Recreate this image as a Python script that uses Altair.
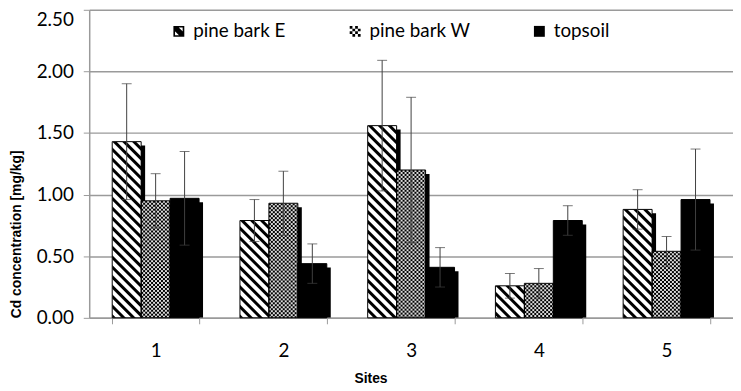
import base64
import altair as alt
import pandas as pd

sites = ["1", "2", "3", "4", "5"]
series = ["pine bark E", "pine bark W", "topsoil"]
pine_e = [1.43, 0.79, 1.56, 0.26, 0.88]
pine_e_err = [0.47, 0.17, 0.53, 0.10, 0.16]
pine_w = [0.95, 0.93, 1.20, 0.28, 0.54]
pine_w_err = [0.22, 0.26, 0.59, 0.12, 0.12]
topsoil = [0.97, 0.44, 0.41, 0.79, 0.96]
topsoil_err = [0.38, 0.16, 0.16, 0.12, 0.41]
y_ticks = [0.0, 0.5, 1.0, 1.5, 2.0, 2.5]

rows = []
for name, vals, errs in [(series[0], pine_e, pine_e_err),
                         (series[1], pine_w, pine_w_err),
                         (series[2], topsoil, topsoil_err)]:
    for s, v, e in zip(sites, vals, errs):
        rows.append({"site": s, "series": name, "value": v, "err": e})
df = pd.DataFrame(rows)


def svg_uri(svg):
    return "data:image/svg+xml;base64," + base64.b64encode(svg.encode()).decode()


stripe_svg = (
    '<svg xmlns="http://www.w3.org/2000/svg" width="100%" height="100%">'
    '<defs><pattern id="p" width="7" height="7" patternUnits="userSpaceOnUse" '
    'patternTransform="rotate(-45)"><rect width="7" height="7" fill="white"/>'
    '<rect width="3" height="7" fill="black"/></pattern></defs>'
    '<rect width="100%" height="100%" fill="url(#p)"/></svg>'
)
check_svg = (
    '<svg xmlns="http://www.w3.org/2000/svg" width="100%" height="100%">'
    '<defs><pattern id="c" width="4" height="4" patternUnits="userSpaceOnUse">'
    '<rect width="4" height="4" fill="#dcdcdc"/>'
    '<rect width="2" height="2" fill="black"/><rect x="2" y="2" width="2" height="2" fill="black"/>'
    '</pattern></defs><rect width="100%" height="100%" fill="url(#c)"/></svg>'
)
stripe_uri = svg_uri(stripe_svg)
check_uri = svg_uri(check_svg)

# legend symbol paths (unit square -1..1)
path_e = ("M-1,-1H1V1H-1Z M-0.7,-0.7V0.7H0.7V-0.7Z "
          "M-1,-1L-0.3,-1L1,0.3L1,1L0.3,1L-1,-0.3Z")
cells = []
for i in range(4):
    for j in range(4):
        if (i + j) % 2 == 0:
            x0 = -1 + 0.5 * i
            y0 = -1 + 0.5 * j
            cells.append(f"M{x0},{y0}h0.5v0.5h-0.5Z")
path_w = " ".join(cells)

FONT = "Lato"
GRID = "#9a9a9a"
ERR = "#404040"

x_axis = alt.Axis(
    title="Sites", labelAngle=0, tickBand="extent", ticks=True, tickSize=6,
    tickColor=GRID, domainColor=GRID, domainWidth=1.5, grid=False,
    labelFont=FONT, labelFontSize=19, labelColor="black", labelPadding=27,
    labelBaseline="middle",
    titleFont="Liberation Sans", titleFontSize=14, titleFontWeight="bold",
    titleColor="black", titleX=284, titleY=61, titleBaseline="middle",
    titleAlign="center", titleAnchor="start",
)
y_axis = alt.Axis(
    title="Cd concentration [mg/kg]", values=y_ticks, format=".2f",
    grid=True, gridColor=GRID, gridWidth=1.5, tickColor=GRID, tickSize=6,
    domainColor=GRID, domainWidth=1.5,
    labelFont=FONT, labelFontSize=19, labelColor="black", labelPadding=10,
    labelOffset={"expr": "datum.value == 2.5 ? 10 : 0"},
    titleFont="Liberation Sans", titleFontSize=14, titleFontWeight="bold",
    titleColor="black", titleX=-73, titleY=311, titleAngle=270,
    titleAlign="left", titleBaseline="middle",
)

x_scale = alt.Scale(domain=sites, paddingInner=0.32, paddingOuter=0.18)
xo_scale = alt.Scale(domain=series, paddingInner=0, paddingOuter=0)
xo_shadow_scale = alt.Scale(
    domain=series, paddingInner=0, paddingOuter=0,
    range=[4, {"expr": "bandwidth('x') + 4"}],
)
y_scale = alt.Scale(domain=[0, 2.5], nice=False, zero=True)

X = alt.X("site:N", scale=x_scale, axis=x_axis)
XO = alt.XOffset("series:N", scale=xo_scale)

base = alt.Chart(df).transform_calculate(
    lo="datum.value - datum.err", hi="datum.value + datum.err"
)

shadow = base.mark_bar(color="black", yOffset=4, clip=True).encode(
    x=X, xOffset=alt.XOffset("series:N", scale=xo_shadow_scale),
    y=alt.Y("value:Q", scale=y_scale, axis=y_axis, stack=None),
    y2=alt.datum(0),
)
soil = base.transform_filter(alt.datum.series == "topsoil").mark_bar(
    color="black"
).encode(
    x=X, xOffset=XO,
    y=alt.Y("value:Q", scale=y_scale, axis=y_axis, stack=None),
    y2=alt.datum(0),
)
img_e = base.transform_filter(alt.datum.series == "pine bark E").mark_image(
    aspect=False
).encode(
    x=X, xOffset=XO,
    y=alt.Y("value:Q", scale=y_scale, axis=y_axis),
    y2=alt.datum(0),
    url=alt.value(stripe_uri),
)
img_w = base.transform_filter(alt.datum.series == "pine bark W").mark_image(
    aspect=False
).encode(
    x=X, xOffset=XO,
    y=alt.Y("value:Q", scale=y_scale, axis=y_axis),
    y2=alt.datum(0),
    url=alt.value(check_uri),
)
outline = base.mark_bar(fillOpacity=0, stroke="black", strokeWidth=1).encode(
    x=X, xOffset=XO,
    y=alt.Y("value:Q", scale=y_scale, axis=y_axis, stack=None),
    y2=alt.datum(0),
)
err_rule = base.mark_rule(color=ERR, strokeWidth=1).encode(
    x=X, xOffset=XO,
    y=alt.Y("lo:Q", scale=y_scale, axis=y_axis),
    y2="hi:Q",
)
cap_hi = base.mark_tick(color=ERR, thickness=1, size=10).encode(
    x=X, xOffset=XO,
    y=alt.Y("hi:Q", scale=y_scale, axis=y_axis),
)
cap_lo = base.mark_tick(color=ERR, thickness=1, size=10).encode(
    x=X, xOffset=XO,
    y=alt.Y("lo:Q", scale=y_scale, axis=y_axis),
)
legend_pts = base.mark_point(filled=True, color="black", opacity=0).encode(
    x=X, xOffset=XO,
    y=alt.Y("value:Q", scale=y_scale, axis=y_axis),
    shape=alt.Shape(
        "series:N",
        scale=alt.Scale(domain=series, range=[path_e, path_w, "square"]),
        legend=alt.Legend(
            title=None, orient="none", legendX=81, legendY=12,
            direction="horizontal", columns=3, columnPadding=60,
            symbolSize=121, symbolOpacity=1, symbolStrokeWidth=0,
            labelFont=FONT, labelFontSize=19, labelColor="black",
            labelOffset=5, padding=0,
        ),
    ),
)

chart = alt.layer(
    shadow, soil, img_e, img_w, outline, err_rule, cap_hi, cap_lo, legend_pts
).resolve_scale(xOffset="independent").properties(
    width=650, height=311,
    autosize=alt.AutoSizeParams(type="none"),
    padding={"left": 82, "top": 0, "right": 0, "bottom": 68},
).configure_view(stroke=None)

chart.save("out.html", embed_options={"renderer": "svg", "actions": False})
